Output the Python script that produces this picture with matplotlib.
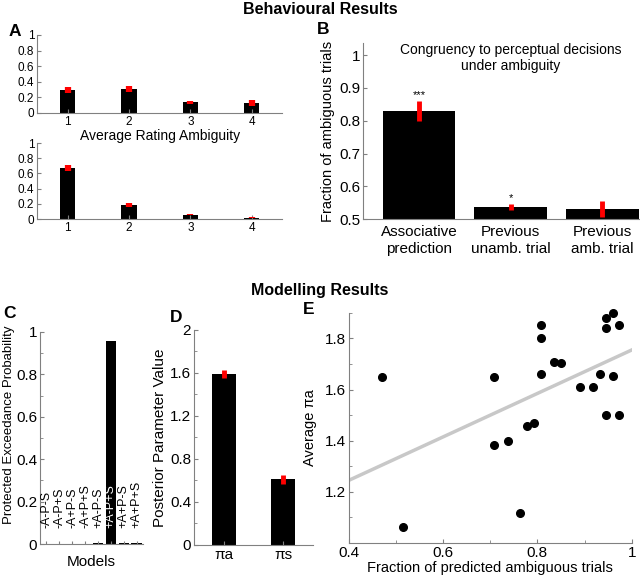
import numpy as np
import matplotlib
matplotlib.use("Agg")
import matplotlib.pyplot as plt
from matplotlib.ticker import MultipleLocator

plt.rcParams["font.family"] = ["Liberation Sans", "DejaVu Sans"]

# panel A
ratings = [1, 2, 3, 4]
a_top = [0.29, 0.31, 0.14, 0.13]
a_top_err = [0.04, 0.035, 0.02, 0.035]
a_bot = [0.67, 0.18, 0.06, 0.02]
a_bot_err = [0.035, 0.025, 0.01, 0.005]

# panel B
b_labels = ["Associative\nprediction", "Previous\nunamb. trial", "Previous\namb. trial"]
b_vals = [0.83, 0.537, 0.53]
b_err = [0.03, 0.01, 0.025]
b_stars = ["***", "*", ""]

# panel C
models = ["-A-P-S", "-A-P+S", "-A+P-S", "-A+P+S", "+A-P-S", "+A-P+S", "+A+P-S", "+A+P+S"]
pxp = [0.0005, 0.0005, 0.0005, 0.0005, 0.005, 0.955, 0.003, 0.004]

# panel D
params = ["πa", "πs"]
param_vals = [1.59, 0.61]
param_err = [0.035, 0.04]

# panel E
frac_pred = [0.471, 0.514, 0.709, 0.709, 0.737, 0.764, 0.779, 0.793, 0.807, 0.807,
             0.807, 0.835, 0.850, 0.891, 0.919, 0.933, 0.946, 0.946, 0.946, 0.960,
             0.960, 0.974, 0.974]
avg_pia = [1.648, 1.063, 1.382, 1.651, 1.399, 1.118, 1.456, 1.469, 1.853, 1.800,
           1.661, 1.708, 1.705, 1.612, 1.612, 1.662, 1.879, 1.840, 1.500, 1.899,
           1.654, 1.852, 1.500]
fit_x = [0.4, 1.0]
fit_y = [1.245, 1.755]

GRAY = "#808080"


def style(ax, fs):
    for s in ["top", "right"]:
        ax.spines[s].set_visible(False)
    for s in ["left", "bottom"]:
        ax.spines[s].set_color(GRAY)
        ax.spines[s].set_linewidth(0.8)
    ax.tick_params(which="both", direction="in", color=GRAY, labelsize=fs, pad=2)
    ax.tick_params(which="major", length=3)
    ax.tick_params(which="minor", length=2)


def bar_err(ax, x, y, err, width, lw=3.5):
    ax.bar(x, y, width=width, color="black")
    y = np.array(y)
    err = np.array(err)
    ax.vlines(x, y - err, y + err, color="red", lw=lw, zorder=3)


fig = plt.figure(figsize=(6.4, 5.78), dpi=100)

fig.text(0.5, 0.983, "Behavioural Results", ha="center", va="center",
         fontsize=11.5, fontweight="bold")
fig.text(0.5, 0.497, "Modelling Results", ha="center", va="center",
         fontsize=11.5, fontweight="bold")

# A top
ax = fig.add_axes([0.058, 0.8045, 0.383, 0.135])
bar_err(ax, ratings, a_top, a_top_err, 0.25, lw=4.5)
ax.set_xlim(0.5, 4.5)
ax.set_ylim(0, 1)
ax.set_yticks([0, 0.2, 0.4, 0.6, 0.8, 1])
ax.set_yticklabels(["0", "0.2", "0.4", "0.6", "0.8", "1"])
ax.set_xticks(ratings)
style(ax, 8.5)
ax.set_xlabel("Average Rating Ambiguity", fontsize=10, labelpad=1)

# A bottom
ax = fig.add_axes([0.058, 0.621, 0.383, 0.1315])
bar_err(ax, ratings, a_bot, a_bot_err, 0.25, lw=4.5)
ax.set_xlim(0.5, 4.5)
ax.set_ylim(0, 1)
ax.set_yticks([0, 0.2, 0.4, 0.6, 0.8, 1])
ax.set_yticklabels(["0", "0.2", "0.4", "0.6", "0.8", "1"])
ax.set_xticks(ratings)
style(ax, 8.5)

# B
ax = fig.add_axes([0.567, 0.621, 0.433, 0.3045])
xb = np.arange(1, 4)
bar_err(ax, xb, b_vals, b_err, 0.79)
for x, v, e, s in zip(xb, b_vals, b_err, b_stars):
    ax.text(x, v + e + 0.003, s, ha="center", va="bottom", fontsize=8)
ax.set_xlim(0.39, 3.41)
ax.set_ylim(0.5, 1.037)
ax.set_yticks([0.5, 0.6, 0.7, 0.8, 0.9, 1])
ax.set_yticklabels(["0.5", "0.6", "0.7", "0.8", "0.9", "1"])
ax.set_xticks(xb)
ax.set_xticklabels(b_labels, fontsize=10.5, linespacing=1.3)
style(ax, 11)
ax.tick_params(axis="x", length=0, pad=4)
ax.set_ylabel("Fraction of ambiguous trials", fontsize=10.5, labelpad=3)
ax.text(2.0, 1.037, "Congruency to perceptual decisions\nunder ambiguity",
        ha="center", va="top", fontsize=10)

# C
ax = fig.add_axes([0.0625, 0.0588, 0.161, 0.367])
xc = np.arange(1, len(models) + 1)
ax.bar(xc, pxp, width=0.8, color="black")
for x, m, v in zip(xc, models, pxp):
    ax.text(x, 0.075, m, rotation=90, ha="center", va="bottom", fontsize=9,
            color="white" if v > 0.5 else "black")
ax.set_xlim(0.5, 8.5)
ax.set_ylim(0, 1)
ax.set_yticks([0, 0.2, 0.4, 0.6, 0.8, 1])
ax.set_yticklabels(["0", "0.2", "0.4", "0.6", "0.8", "1"])
ax.yaxis.set_minor_locator(MultipleLocator(0.1))
ax.set_xticks(xc)
ax.set_xticklabels([])
style(ax, 11)
ax.tick_params(axis="x", length=2)
ax.set_xlabel("Models", fontsize=11, labelpad=6)
ax.set_ylabel("Protected Exceedance Probability", fontsize=9.5, labelpad=1)
ax.yaxis.set_label_coords(-0.245, 0.56)

# D
ax = fig.add_axes([0.303, 0.0571, 0.186, 0.372])
xd = np.arange(1, 3)
bar_err(ax, xd, param_vals, param_err, 0.4)
ax.set_xlim(0.5, 2.5)
ax.set_ylim(0, 2)
ax.set_yticks([0, 0.4, 0.8, 1.2, 1.6, 2])
ax.set_yticklabels(["0", "0.4", "0.8", "1.2", "1.6", "2"])
ax.yaxis.set_minor_locator(MultipleLocator(0.2))
ax.set_xticks(xd)
ax.set_xticklabels(params)
style(ax, 11)
ax.set_ylabel("Posterior Parameter Value", fontsize=11, labelpad=2)

# E
ax = fig.add_axes([0.545, 0.0606, 0.442, 0.398])
ax.plot(fit_x, fit_y, color="#c8c8c8", lw=2.5, zorder=1)
ax.plot(frac_pred, avg_pia, "o", color="black", ms=5.5, zorder=2, clip_on=False)
ax.set_xlim(0.4, 1.0)
ax.set_ylim(1.0, 1.9)
ax.set_xticks([0.4, 0.6, 0.8, 1.0])
ax.set_xticklabels(["0.4", "0.6", "0.8", "1"])
ax.set_yticks([1.2, 1.4, 1.6, 1.8])
ax.xaxis.set_minor_locator(MultipleLocator(0.1))
ax.yaxis.set_minor_locator(MultipleLocator(0.1))
style(ax, 11)
ax.set_xlabel("Fraction of predicted ambiguous trials", fontsize=10.5, labelpad=1)
ax.set_ylabel("Average πa", fontsize=10.5, labelpad=6)

# panel letters
for lx, ly, s in [(15, 32, "A"), (323, 29, "B"), (10, 313, "C"),
                  (176, 317, "D"), (309, 309, "E")]:
    fig.text(lx / 640, 1 - ly / 578, s, ha="center", va="center",
             fontsize=12.5, fontweight="bold")

fig.savefig("out.png", dpi=100)
